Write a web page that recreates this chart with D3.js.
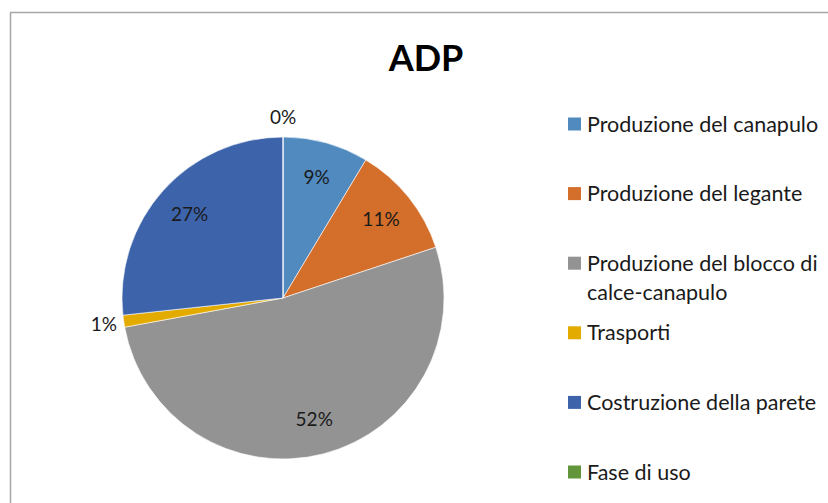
<!DOCTYPE html>
<html>
<head>
<meta charset="utf-8">
<script src="https://cdn.jsdelivr.net/npm/d3@7"></script>
<style>
  body { margin: 0; background: #fff; }
  text { font-family: Lato, "Open Sans", sans-serif; fill: #1a1a1a; }
</style>
</head>
<body>
<div id="chart"></div>
<script>
var width = 828, height = 503;

var categories = ["Produzione del canapulo", "Produzione del legante", "Produzione del blocco di calce-canapulo",
                  "Trasporti", "Costruzione della parete", "Fase di uso"];
var values = [8.6, 11.3, 52.2, 1.2, 26.7, 0.0];
var colors = ["#508abf", "#d46e2b", "#939393", "#e3aa00", "#3d64ab", "#63963a"];
// legend lines (the third wraps in two)
var legendLines = [["Produzione del canapulo"], ["Produzione del legante"], ["Produzione del blocco di", "calce-canapulo"],
                   ["Trasporti"], ["Costruzione della parete"], ["Fase di uso"]];

var cx = 283, cy = 298, radius = 161;

var svg = d3.select("#chart").append("svg")
    .attr("width", width)
    .attr("height", height);

// chart frame
svg.append("rect")
    .attr("x", 10.5).attr("y", 12.5)
    .attr("width", 900).attr("height", 600)
    .attr("fill", "none")
    .attr("stroke", "#a6a6a6")
    .attr("stroke-width", 1.5);

svg.append("text")
    .attr("x", 426).attr("y", 71)
    .attr("text-anchor", "middle")
    .style("font-size", "36px")
    .style("font-weight", "bold")
    .style("fill", "#000")
    .text("ADP");

var pie = d3.pie().sort(null).value(function(d) { return d; });
var arcs = pie(values);

var arc = d3.arc().innerRadius(0).outerRadius(radius);
var inLabel = d3.arc().innerRadius(radius * 0.78).outerRadius(radius * 0.78);
var outLabel = d3.arc().innerRadius(radius + 20).outerRadius(radius + 20);

var g = svg.append("g").attr("transform", "translate(" + cx + "," + cy + ")");

g.selectAll("path.slice")
  .data(arcs)
  .enter().append("path")
    .attr("class", "slice")
    .attr("d", arc)
    .attr("fill", function(d, i) { return colors[i]; })
    .attr("stroke", "#fff")
    .attr("stroke-width", 0.6);

g.selectAll("text.lbl")
  .data(arcs)
  .enter().append("text")
    .attr("class", "lbl")
    .attr("transform", function(d) {
      var small = (d.endAngle - d.startAngle) < 0.15;
      return "translate(" + (small ? outLabel : inLabel).centroid(d) + ")";
    })
    .attr("text-anchor", "middle")
    .attr("dy", "0.35em")
    .style("font-size", "19px")
    .text(function(d) { return Math.round(d.value) + "%"; });

// legend
var legend = svg.append("g").selectAll("g.item")
  .data(categories)
  .enter().append("g")
    .attr("class", "item")
    .attr("transform", function(d, i) { return "translate(568," + (124 + i * 69.6) + ")"; });

legend.append("rect")
    .attr("x", 0).attr("y", -6.5)
    .attr("width", 13).attr("height", 13)
    .attr("fill", function(d, i) { return colors[i]; });

legend.append("text")
    .style("font-size", "21.5px")
    .each(function(d, i) {
      var t = d3.select(this);
      legendLines[i].forEach(function(line, j) {
        t.append("tspan").attr("x", 19).attr("dy", j === 0 ? "0.35em" : "1.37em").text(line);
      });
    });
</script>
</body>
</html>
